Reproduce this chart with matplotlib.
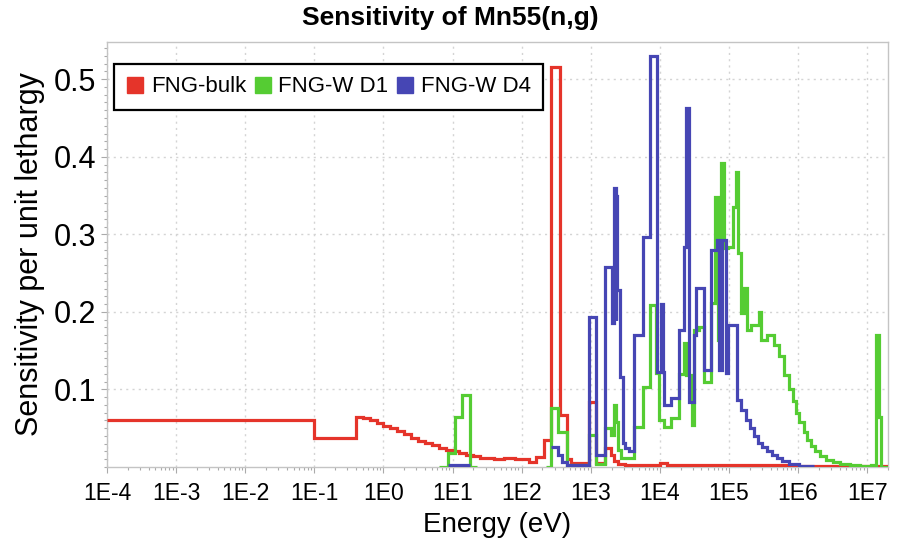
import numpy as np
import matplotlib
matplotlib.use("Agg")
import matplotlib.pyplot as plt
from matplotlib.lines import Line2D
from matplotlib.ticker import FixedLocator, LogLocator, MultipleLocator, NullFormatter

# group boundaries are given as log10(E / eV), values are sensitivity per unit lethargy
bulk_log_edges = [-4, -1, -0.39, -0.3, -0.2, -0.1, 0.0, 0.1, 0.2, 0.3, 0.4, 0.5, 0.6,
                  0.7, 0.8, 0.9, 1.0, 1.1, 1.2, 1.3, 1.4, 1.5, 1.6, 1.75, 1.9, 2.0,
                  2.11, 2.21, 2.32, 2.42, 2.55, 2.65, 2.72, 2.98, 3.08, 3.20, 3.29,
                  3.33, 3.40, 3.50, 4.0, 4.1, 5.0, 6.0, 7.3]
bulk_values = [0.060, 0.037, 0.065, 0.063, 0.060, 0.057, 0.053, 0.050, 0.046, 0.042,
               0.038, 0.034, 0.031, 0.028, 0.025, 0.022, 0.020, 0.018, 0.016, 0.014,
               0.012, 0.011, 0.010, 0.011, 0.010, 0.010, 0.006, 0.013, 0.035, 0.516,
               0.067, 0.010, 0.005, 0.084, 0.005, 0.025, 0.015, 0.008, 0.004, 0.003,
               0.005, 0.003, 0.002, 0.001]

d1_log_edges = [-4, 0.8, 0.93, 1.03, 1.14, 1.25, 1.35, 2.35, 2.43, 2.52, 2.65, 2.98,
                3.08, 3.20, 3.30, 3.34, 3.37, 3.40, 3.44, 3.63, 3.75, 3.85, 3.95, 3.99,
                4.06, 4.16, 4.28, 4.35, 4.38, 4.46, 4.50, 4.57, 4.64, 4.74, 4.80, 4.84,
                4.89, 4.93, 4.99, 5.06, 5.10, 5.13, 5.18, 5.22, 5.26, 5.32, 5.44, 5.47,
                5.55, 5.65, 5.73, 5.80, 5.87, 5.92, 5.97, 6.02, 6.08, 6.13, 6.19, 6.25,
                6.32, 6.40, 6.50, 6.60, 6.75, 6.90, 7.05, 7.13, 7.17, 7.20, 7.30]
d1_values = [np.nan, 0.0, 0.018, 0.065, 0.093, 0.0, np.nan, 0.0, 0.076, 0.045, 0.002,
             0.041, 0.004, 0.050, 0.041, 0.080, 0.058, 0.022, 0.012, 0.052, 0.103,
             0.209, 0.121, 0.060, 0.052, 0.063, 0.120, 0.160, 0.118, 0.054, 0.177,
             0.180, 0.110, 0.211, 0.348, 0.164, 0.392, 0.282, 0.284, 0.335, 0.380,
             0.276, 0.199, 0.231, 0.177, 0.183, 0.200, 0.164, 0.170, 0.157, 0.143,
             0.118, 0.100, 0.085, 0.070, 0.058, 0.045, 0.035, 0.027, 0.020, 0.014,
             0.009, 0.006, 0.004, 0.002, 0.001, 0.002, 0.170, 0.064, 0.0]

d4_log_edges = [-4, 0.93, 1.25, 2.43, 2.52, 2.59, 2.65, 2.98, 3.08, 3.20, 3.31, 3.34,
                3.36, 3.37, 3.38, 3.43, 3.46, 3.49, 3.56, 3.63, 3.75, 3.85, 3.96, 4.02,
                4.04, 4.06, 4.16, 4.28, 4.35, 4.38, 4.42, 4.50, 4.53, 4.64, 4.74, 4.82,
                4.86, 4.90, 4.96, 4.99, 5.12, 5.18, 5.25, 5.30, 5.36, 5.42, 5.48, 5.55,
                5.62, 5.70, 5.77, 5.87, 6.01, 6.23, 7.30]
d4_values = [np.nan, 0.002, np.nan, 0.026, 0.015, 0.006, 0.003, 0.194, 0.015, 0.258,
             0.186, 0.360, 0.190, 0.350, 0.228, 0.116, 0.031, 0.024, 0.021, 0.170,
             0.297, 0.530, 0.123, 0.210, 0.123, 0.080, 0.089, 0.177, 0.284, 0.463,
             0.084, 0.170, 0.231, 0.125, 0.280, 0.293, 0.125, 0.293, 0.121, 0.183,
             0.086, 0.073, 0.060, 0.050, 0.040, 0.031, 0.026, 0.020, 0.016, 0.012,
             0.008, 0.004, 0.001, np.nan]

series_names = ["FNG-bulk", "FNG-W D1", "FNG-W D4"]
series_colors = ["#e5342a", "#55cc33", "#4646b4"]

x_tick_labels = ["1E-4", "1E-3", "1E-2", "1E-1", "1E0", "1E1", "1E2", "1E3",
                 "1E4", "1E5", "1E6", "1E7"]
y_ticks = [0.1, 0.2, 0.3, 0.4, 0.5]

font = ["Liberation Sans", "DejaVu Sans"]

fig = plt.figure(figsize=(9, 5.45), dpi=100)
ax = fig.add_axes([107 / 900, 78 / 545, 781 / 900, 425 / 545])

data = [(bulk_log_edges, bulk_values), (d1_log_edges, d1_values), (d4_log_edges, d4_values)]
for (edges, vals), col in zip(data, series_colors):
    ax.stairs(vals, 10.0 ** np.array(edges), baseline=None, color=col, lw=2.3, zorder=3)

ax.set_xscale("log")
ax.set_xlim(1e-4, 2e7)
ax.set_ylim(0, 0.548)

ax.xaxis.set_major_locator(FixedLocator([10.0 ** k for k in range(-4, 8)]))
ax.set_xticklabels(x_tick_labels, fontfamily=font, fontsize=16.5)
ax.xaxis.set_minor_locator(LogLocator(base=10, subs=np.arange(2, 10), numticks=100))
ax.xaxis.set_minor_formatter(NullFormatter())

ax.set_yticks(y_ticks)
ax.set_yticklabels([f"{v:.1f}" for v in y_ticks], fontfamily=font, fontsize=22)
ax.yaxis.set_minor_locator(MultipleLocator(0.01))

ax.tick_params(which="both", direction="out", color="#aaaaaa", width=0.8)
ax.tick_params(which="major", length=4)
ax.tick_params(which="minor", length=2.5)
ax.tick_params(axis="x", pad=7)
ax.tick_params(axis="y", pad=4)

for sp in ax.spines.values():
    sp.set_color("#c4c4c4")
    sp.set_linewidth(1)

ax.grid(True, which="major", color="#d4d4d4", linestyle=(0, (1.5, 3)), linewidth=1)
ax.set_axisbelow(True)

ax.set_xlabel("Energy (eV)", fontfamily=font, fontsize=20, labelpad=5)
ax.set_ylabel("Sensitivity per unit lethargy", fontfamily=font, fontsize=22, labelpad=6)

fig.text(0.5, 1 - 18 / 545, "Sensitivity of Mn55(n,g)", ha="center", va="center",
         fontfamily=font, fontsize=19, fontweight="bold")

handles = [Line2D([], [], marker="s", linestyle="none", markersize=11, color=c) for c in series_colors]
leg = ax.legend(handles, series_names, loc="upper left", bbox_to_anchor=(0.009, 0.948),
                borderaxespad=0, ncol=3, frameon=True, fancybox=False, framealpha=1,
                edgecolor="black", prop={"family": font, "size": 16},
                handlelength=0.8, handletextpad=0.3, columnspacing=0.35, borderpad=0.55)
leg.get_frame().set_linewidth(1.6)
leg.set_zorder(5)

fig.savefig("out.png", dpi=100)
